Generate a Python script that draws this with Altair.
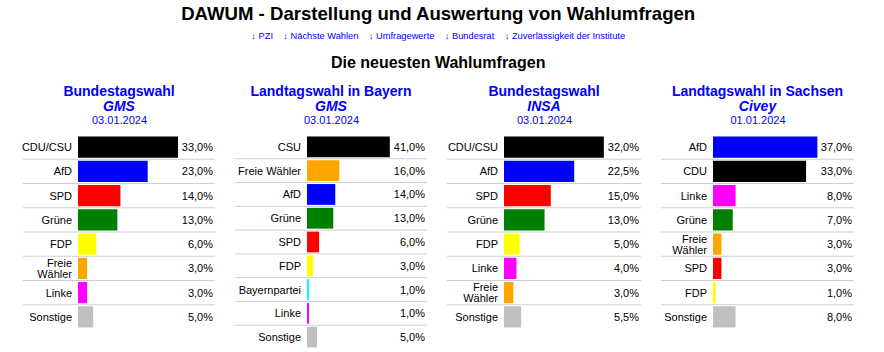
import altair as alt
import pandas as pd

FONT = "Liberation Sans"
BLUE = "#0000ff"

# ---- data -------------------------------------------------------------
main_title = "DAWUM - Darstellung und Auswertung von Wahlumfragen"
links = ["↓ PZI", "↓ Nächste Wahlen", "↓ Umfragewerte", "↓ Bundesrat",
         "↓ Zuverlässigkeit der Institute"]
section_title = "Die neuesten Wahlumfragen"

elections = ["Bundestagswahl", "Landtagswahl in Bayern", "Bundestagswahl",
             "Landtagswahl in Sachsen"]
institutes = ["GMS", "GMS", "INSA", "Civey"]
dates = ["03.01.2024", "03.01.2024", "03.01.2024", "01.01.2024"]

p1_parties = ["CDU/CSU", "AfD", "SPD", "Grüne", "FDP", "Freie Wähler", "Linke", "Sonstige"]
p1_values = [33.0, 23.0, 14.0, 13.0, 6.0, 3.0, 3.0, 5.0]

p2_parties = ["CSU", "Freie Wähler", "AfD", "Grüne", "SPD", "FDP", "Bayernpartei",
              "Linke", "Sonstige"]
p2_values = [41.0, 16.0, 14.0, 13.0, 6.0, 3.0, 1.0, 1.0, 5.0]

p3_parties = ["CDU/CSU", "AfD", "SPD", "Grüne", "FDP", "Linke", "Freie Wähler", "Sonstige"]
p3_values = [32.0, 22.5, 15.0, 13.0, 5.0, 4.0, 3.0, 5.5]

p4_parties = ["AfD", "CDU", "Linke", "Grüne", "Freie Wähler", "SPD", "FDP", "Sonstige"]
p4_values = [37.0, 33.0, 8.0, 7.0, 3.0, 3.0, 1.0, 8.0]

party_colors = {
    "CDU/CSU": "#000000", "CDU": "#000000", "CSU": "#000000",
    "AfD": "#0000ff", "SPD": "#ff0000", "Grüne": "#008000", "FDP": "#ffff00",
    "Freie Wähler": "#ffa500", "Linke": "#ff00ff", "Bayernpartei": "#00ffff",
    "Sonstige": "#c0c0c0",
}

# ---- layout (styles) --------------------------------------------------
panel_widths = [192, 192, 194, 193]
panel_heights = [194, 214, 194, 194]
bar_starts = [55, 72, 57, 52]
px_per_pct = [3.03, 2.02, 3.12, 2.82]
wrap_labels = [True, False, True, True]


def panel(i, parties, values):
    w, h, bs, k = panel_widths[i], panel_heights[i], bar_starts[i], px_per_pct[i]
    vmax = max(values)
    df = pd.DataFrame({
        "party": parties,
        "value": values,
        "color": [party_colors[p] for p in parties],
    })
    yscale = alt.Scale(paddingInner=0, paddingOuter=0)
    base = alt.Chart(df).encode(
        y=alt.Y("party:N", sort=parties, axis=None, scale=yscale)
    )
    rules = base.transform_filter(alt.datum.party != parties[-1]).mark_rule(
        color="#cfcfcf", strokeWidth=1
    ).encode(
        y=alt.Y("party:N", sort=parties, axis=None, scale=yscale, bandPosition=1),
        x=alt.value(0), x2=alt.value(w),
    )
    bars = base.mark_bar(height=alt.RelativeBandSize(band=0.875)).encode(
        x=alt.X(
            "value:Q",
            scale=alt.Scale(domain=[0, vmax], range=[bs, bs + vmax * k], nice=False),
            axis=alt.Axis(
                orient="top", labels=False, ticks=False, domain=False, grid=False,
                title=dates[i], titleX=w / 2, titleY=-12, titleAlign="center",
                titleBaseline="alphabetic", titleFont=FONT, titleFontSize=11,
                titleFontWeight="normal", titleColor=BLUE,
            ),
        ),
        color=alt.Color("color:N", scale=None),
    )
    text_style = dict(align="right", baseline="middle", font=FONT, fontSize=11,
                      color="#000000")
    if wrap_labels[i]:
        single = base.transform_filter(
            "indexof(datum.party, ' ') < 0"
        ).mark_text(dy=1, **text_style).encode(x=alt.value(bs - 6), text="party:N")
        double = base.transform_filter(
            "indexof(datum.party, ' ') >= 0"
        ).mark_text(dy=-4.5, lineBreak=" ", lineHeight=11, **text_style).encode(
            x=alt.value(bs - 6), text="party:N")
        label_layers = [single, double]
    else:
        label_layers = [
            base.mark_text(dy=1, **text_style).encode(x=alt.value(bs - 6), text="party:N")
        ]
    vals = base.transform_calculate(
        lab="replace(format(datum.value, '.1f'), '.', ',') + '%'"
    ).mark_text(dy=1, **text_style).encode(x=alt.value(w - 2), text="lab:N")
    return alt.layer(rules, bars, *label_layers, vals).properties(
        width=w, height=h,
        title=alt.TitleParams(
            text=elections[i], subtitle=institutes[i], anchor="middle",
            font=FONT, fontSize=14, fontWeight="bold", color=BLUE,
            subtitleFont=FONT, subtitleFontSize=14, subtitleFontWeight="bold",
            subtitleFontStyle="italic", subtitleColor=BLUE, subtitlePadding=1,
            offset=0,
        ),
    )


panels = [
    panel(0, p1_parties, p1_values),
    panel(1, p2_parties, p2_values),
    panel(2, p3_parties, p3_values),
    panel(3, p4_parties, p4_values),
]

inner = alt.hconcat(
    *panels, spacing=18,
    title=alt.TitleParams(
        text=section_title, anchor="middle", font=FONT, fontSize=16,
        fontWeight="bold", color="#000000", offset=14,
    ),
)

sep = "\u00a0\u00a0\u00a0\u00a0"
chart = alt.vconcat(
    inner,
    title=alt.TitleParams(
        text=main_title, subtitle=sep.join(links), anchor="middle",
        font=FONT, fontSize=18.6, fontWeight="bold", color="#000000",
        subtitleFont=FONT, subtitleFontSize=9.3, subtitleColor=BLUE,
        subtitlePadding=8, offset=14,
    ),
).properties(
    padding={"left": 21, "top": 5, "right": 5, "bottom": 0}
).configure_view(stroke=None)

chart.save("out.html", embed_options={"renderer": "svg", "actions": False})
